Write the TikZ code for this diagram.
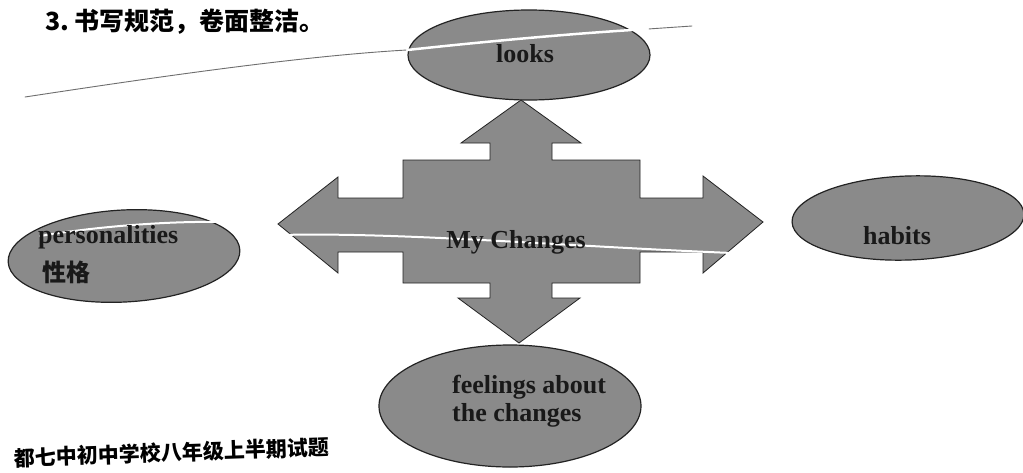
\documentclass[tikz,border=0pt]{standalone}
\usepackage{fontspec}
\setmainfont{Liberation Serif}
\newfontfamily\cjk{Noto Sans CJK SC}
\usetikzlibrary{shapes.geometric}
\definecolor{shade}{RGB}{138,138,138}
\definecolor{edge}{RGB}{35,35,35}
\definecolor{pen}{RGB}{110,110,110}
\begin{document}
\begin{tikzpicture}[x=1pt,y=-1pt,
  blob/.style={ellipse, fill=shade, draw=edge, line width=1.2pt, inner sep=0pt},
  lbl/.style={font=\bfseries\fontsize{26}{27}\selectfont, text=black!90, inner sep=0pt},
  cjklbl/.style={font=\cjk\bfseries\fontsize{24}{24}\selectfont, text=black!90, inner sep=0pt},
  crossshape/.style={fill=shade, draw=edge, line width=0.8pt, line join=miter},
  crack/.style={white, line width=2.5pt, line cap=round},
  penline/.style={pen, line width=0.9pt, line cap=round}]
\useasboundingbox (0,0) rectangle (1023,472);
\fill[white] (0,0) rectangle (1023,472);

% header and footer
\node[font=\cjk\bfseries\fontsize{25}{25}\selectfont, anchor=base west, inner sep=0pt] (head) at (45,30) {3.\ 书写规范，卷面整洁。};
\node[font=\cjk\bfseries\fontsize{21}{21}\selectfont, anchor=base west, inner sep=0pt, rotate=2] (foot) at (14,466) {都七中初中学校八年级上半期试题};

% ellipses
\node[blob, minimum width=242pt, minimum height=90pt] (looksE) at (529,55) {};
\node[blob, minimum width=232pt, minimum height=92pt, rotate=3] (persE) at (124,256) {};
\node[blob, minimum width=232pt, minimum height=84pt, rotate=2] (habE) at (908,218) {};
\node[blob, minimum width=262pt, minimum height=122pt] (feelE) at (510,406) {};

% central cross with four arrows
\draw[crossshape] (521,100) -- (581,143) -- (552,143) -- (552,160) -- (640,160)
  -- (640,198) -- (703,198) -- (703,176) -- (763,222) -- (703,273) -- (703,252)
  -- (640,252) -- (640,283) -- (552,283) -- (552,298) -- (580,298) -- (519,343)
  -- (458,298) -- (490,298) -- (490,283) -- (403,283) -- (403,252) -- (338,252)
  -- (338,273) -- (278,224) -- (338,177) -- (338,198) -- (403,198) -- (403,160)
  -- (490,160) -- (490,143) -- (461,143) -- cycle;

% pen stroke and paper cracks
\coordinate (p0) at (25,97);
\coordinate (p1) at (407,50);
\coordinate (p2) at (648,29);
\coordinate (p3) at (692,26);
\draw[penline] (p0) .. controls (150,78) and (300,56) .. (p1);
\draw[penline] (p2) -- (p3);
\draw[crack] (p1) .. controls (500,40) and (580,33) .. (p2);
\coordinate (c0) at (40,236);
\coordinate (c1) at (222,222);
\draw[crack, line width=2pt] (c0) .. controls (100,226) and (170,221) .. (c1);
\coordinate (c2) at (280,235);
\coordinate (c3) at (732,253);
\draw[crack, line width=2pt] (c2) .. controls (400,232) and (560,246) .. (c3);

% labels
\node[lbl, anchor=base] (looksT) at (525,62) {looks};
\node[lbl, anchor=base west] (persT) at (38,243) {personalities};
\node[cjklbl, anchor=base west] (persC) at (42,281) {性格};
\node[lbl, anchor=base] (habT) at (897,244) {habits};
\node[lbl, anchor=base west] (feel1) at (452,393) {feelings about};
\node[lbl, anchor=base west] (feel2) at (452,421) {the changes};
\node[lbl, anchor=base] (mc) at (516,248) {My Changes};
\end{tikzpicture}
\end{document}
